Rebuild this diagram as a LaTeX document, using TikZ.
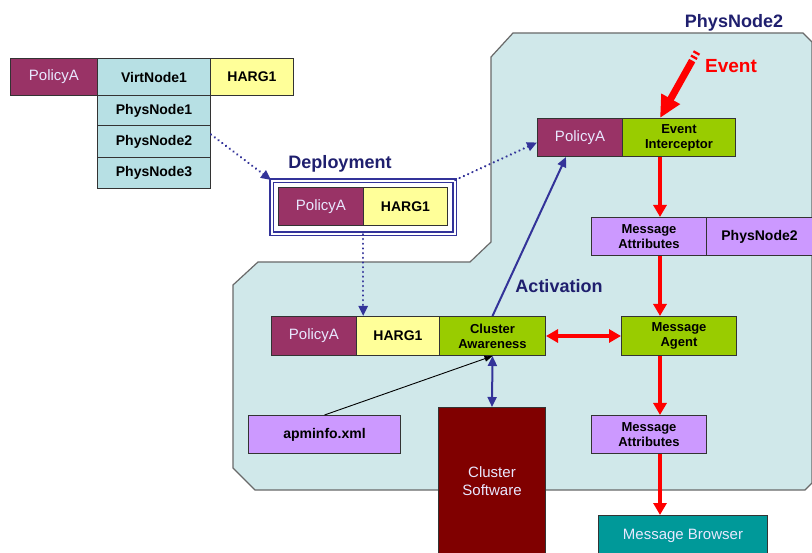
\documentclass[tikz,border=0pt]{standalone}
\usepackage{fontspec}
\setmainfont{Liberation Sans}
\usetikzlibrary{arrows.meta,calc}

\definecolor{plum}{RGB}{153,51,102}
\definecolor{cellcyan}{RGB}{183,224,228}
\definecolor{paleyellow}{RGB}{255,255,153}
\definecolor{limegreen}{RGB}{153,204,0}
\definecolor{lavender}{RGB}{204,153,255}
\definecolor{darkred}{RGB}{128,0,0}
\definecolor{msgteal}{RGB}{0,153,153}
\definecolor{navyline}{RGB}{51,51,153}
\definecolor{titlenavy}{RGB}{31,31,110}
\definecolor{zonefill}{RGB}{208,232,234}
\definecolor{zoneline}{RGB}{105,105,105}
\definecolor{lighttext}{RGB}{232,232,255}

\tikzset{
  cell/.style={draw=black!80, line width=1pt, anchor=north west, inner sep=0pt,
    align=center, font=\bfseries\fontsize{14}{16}\selectfont},
  twoline/.style={font=\bfseries\fontsize{13}{15}\selectfont},
  lightcell/.style={text=lighttext, font=\fontsize{15}{18}\selectfont},
  titletext/.style={font=\bfseries\fontsize{18}{20}\selectfont, text=titlenavy,
    inner sep=0pt, anchor=base},
  redarrow/.style={draw=red, line width=3.5pt, -{Triangle[width=13pt,length=12pt]}},
  redboth/.style={draw=red, line width=3.5pt,
    {Triangle[width=13pt,length=12pt]}-{Triangle[width=13pt,length=12pt]}},
  bluearrow/.style={draw=navyline, line width=2pt, -{Triangle[width=9pt,length=10pt]}},
  blueboth/.style={draw=navyline, line width=2pt,
    {Triangle[width=9pt,length=10pt]}-{Triangle[width=9pt,length=10pt]}},
  dotarrow/.style={draw=navyline, line width=2.4pt, line cap=round,
    dash pattern=on 0.1pt off 4.6pt, -{Triangle[width=9pt,length=10pt]}},
  thinarrow/.style={draw=black, line width=0.9pt, -{Triangle[width=6pt,length=8pt]}},
}

\begin{document}
\begin{tikzpicture}[x=1pt,y=-1pt]
\clip (0,0) rectangle (812,553);
\fill[white] (0,0) rectangle (812,553);

% node zone of PhysNode2
\filldraw[fill=zonefill, draw=zoneline, line width=1.2pt]
  (513,33) -- (803,33) -- (812,42) -- (812,483) -- (805,490) -- (255,490)
  -- (233,468) -- (233,285) -- (258,262) -- (470,262) -- (491,242)
  -- (491,57) -- cycle;

\node[titletext] (zonetitle) at (734,28) {PhysNode2};

% policy table
\node[cell, fill=plum, lightcell, minimum width=87pt, minimum height=37pt] (tpol) at (10,58) {PolicyA};
\node[cell, fill=cellcyan, minimum width=113pt, minimum height=37pt] (vn1) at (97,58) {VirtNode1};
\node[cell, fill=paleyellow, minimum width=83pt, minimum height=37pt] (tharg) at (210,58) {HARG1};
\node[cell, fill=cellcyan, minimum width=113pt, minimum height=30pt] (pn1) at (97,95) {PhysNode1};
\node[cell, fill=cellcyan, minimum width=113pt, minimum height=32pt] (pn2) at (97,125) {PhysNode2};
\node[cell, fill=cellcyan, minimum width=113pt, minimum height=31pt] (pn3) at (97,157) {PhysNode3};

% deployment package
\node[titletext] (deplabel) at (340,169) {Deployment};
\node[draw=navyline, double=white, double distance=2pt, line width=1.3pt, fill=white,
  anchor=north west, minimum width=183pt, minimum height=53pt, inner sep=0pt] (deploy) at (271,180) {};
\node[cell, fill=plum, lightcell, minimum width=85pt, minimum height=38pt] (dpol) at (278,187) {PolicyA};
\node[cell, fill=paleyellow, minimum width=84pt, minimum height=38pt] (dharg) at (363,187) {HARG1};

% event side
\node[cell, fill=plum, lightcell, minimum width=85pt, minimum height=38pt] (pa2) at (537,118) {PolicyA};
\node[cell, twoline, fill=limegreen, minimum width=113pt, minimum height=38pt] (ei) at (622,118) {Event\\Interceptor};
\node[cell, twoline, fill=lavender, minimum width=115pt, minimum height=38pt] (ma1) at (591,217) {Message\\Attributes};
\node[cell, fill=lavender, minimum width=106pt, minimum height=38pt] (pnr) at (706,217) {PhysNode2};
\node[cell, twoline, fill=limegreen, minimum width=115pt, minimum height=39pt] (mag) at (621,316) {Message\\Agent};
\node[cell, twoline, fill=lavender, minimum width=115pt, minimum height=38pt] (ma2) at (591,415) {Message\\Attributes};
\node[cell, fill=msgteal, lightcell, minimum width=169pt, minimum height=40pt] (mb) at (598,515) {Message Browser};

% cluster side
\node[cell, fill=plum, lightcell, minimum width=85pt, minimum height=39pt] (cpol) at (271,316) {PolicyA};
\node[cell, fill=paleyellow, minimum width=83pt, minimum height=39pt] (charg) at (356,316) {HARG1};
\node[cell, twoline, fill=limegreen, minimum width=106pt, minimum height=39pt] (ca) at (439,316) {Cluster\\Awareness};
\node[cell, fill=darkred, lightcell, minimum width=107pt, minimum height=148pt] (cs) at (438,407) {Cluster\\Software};
\node[cell, fill=lavender, minimum width=152pt, minimum height=38pt] (apm) at (248,415) {apminfo.xml};

\node[titletext] (actlabel) at (559,293) {Activation};

% deployment flow
\draw[dotarrow] ([yshift=7pt]pn2.east) -- (deploy.north west);
\draw[dotarrow] (deploy.north east) -- ([yshift=-5pt]pa2.west);
\draw[dotarrow] (deploy.south) -- (deploy.south |- charg.north);

% activation
\draw[bluearrow] (ca.north) -- ([xshift=-14pt]pa2.south);
\draw[blueboth] (ca.south) -- (cs.north);
\draw[thinarrow] (apm.north) -- (ca.south);

% incoming event
\coordinate (evtail) at (697,52);
\coordinate (evtip) at (660,118);
\node[titletext, text=red] (evlabel) at (731,73) {\fontsize{19}{21}\selectfont Event};
\draw[red, line width=7pt] ($(evtail)!0!(evtip)$) -- ($(evtail)!0.03!(evtip)$);
\draw[red, line width=7pt] ($(evtail)!0.065!(evtip)$) -- ($(evtail)!0.095!(evtip)$);
\draw[red, line width=7pt, -{Triangle[width=20pt,length=22pt]}]
  ($(evtail)!0.13!(evtip)$) -- (evtip);

% message flow
\coordinate (spine) at (660,0);
\draw[redarrow] (ei.south -| spine) -- (ma1.north -| spine);
\draw[redarrow] (ma1.south -| spine) -- (mag.north -| spine);
\draw[redarrow] (mag.south -| spine) -- (ma2.north -| spine);
\draw[redarrow] (ma2.south -| spine) -- (mb.north -| spine);
\draw[redboth] (ca.east) -- (mag.west);
\end{tikzpicture}
\end{document}
